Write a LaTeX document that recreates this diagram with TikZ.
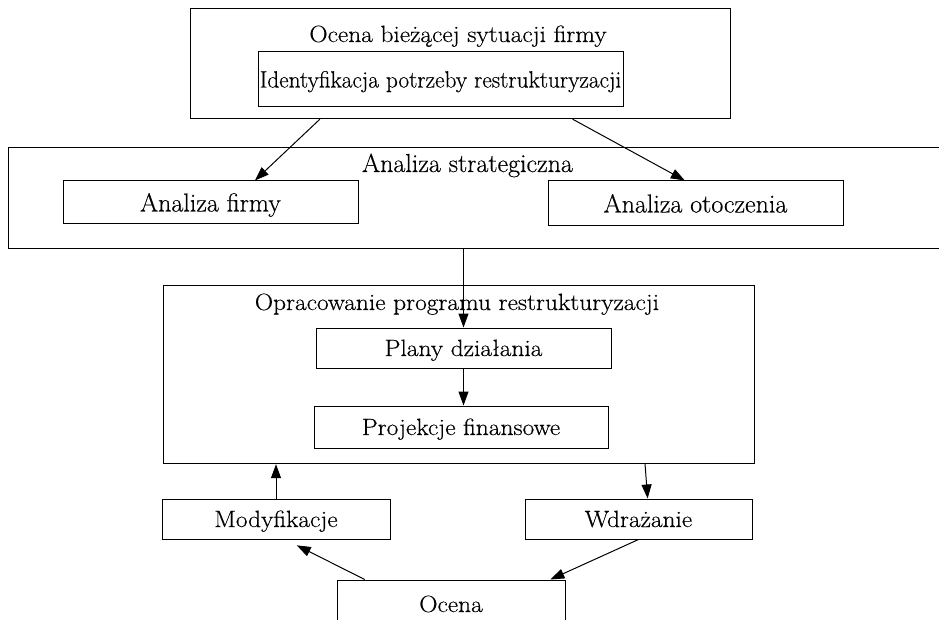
\documentclass[tikz,border=0pt]{standalone}
\usepackage{fontspec}
\setmainfont{Latin Modern Roman}[FakeStretch=1.08, FakeBold=0.4]
\newfontfamily\tallserif{Latin Modern Roman}[FakeStretch=1.0, FakeBold=0.4]
\newfontfamily\narrowserif{Latin Modern Roman}[FakeStretch=0.99, FakeBold=0.4]
\usetikzlibrary{arrows.meta,calc}

\begin{document}
\begin{tikzpicture}[x=1pt,y=-1pt,
  box/.style={draw, line width=1pt, inner sep=0pt, text height=16pt, text depth=0pt,
              font=\fontsize{23.5}{28}\selectfont},
  tall/.style={font=\tallserif\fontsize{26}{31}\selectfont, text height=18pt},
  narrow/.style={font=\narrowserif\fontsize{23.5}{28}\selectfont},
  frame/.style={draw, line width=1.2pt, inner sep=0pt, anchor=north west},
  title/.style={anchor=base, inner sep=0pt, font=\fontsize{23.5}{28}\selectfont},
  link/.style={line width=1pt, -{Triangle[length=14pt,width=10pt]}}]

\useasboundingbox (0,0) rectangle (939,620);

% assessment of the current situation
\node[frame, minimum width=540pt, minimum height=110pt] (top) at (190,8) {};
\node[title] (topTitle) at (458,42) {Ocena bieżącej sytuacji firmy};
\node[box, narrow, minimum width=365pt, minimum height=55pt] (ident) at (440.5,79.5)
  {Identyfikacja potrzeby restrukturyzacji};

% strategic analysis (runs off the right edge)
\node[frame, minimum width=940pt, minimum height=101pt] (strat) at (8,147) {};
\node[title, tall] (stratTitle) at (467.5,172) {Analiza strategiczna};
\node[box, tall, minimum width=295pt, minimum height=43pt] (firm) at (210.5,202.5) {Analiza firmy};
\node[box, tall, minimum width=295pt, minimum height=45pt] (env) at (695.5,203.5) {Analiza otoczenia};

% restructuring programme
\node[frame, minimum width=591pt, minimum height=178pt] (oprac) at (163,285) {};
\node[title] (opracTitle) at (457,310) {Opracowanie programu restrukturyzacji};
\node[box, minimum width=295pt, minimum height=40pt] (plany) at (463.5,348) {Plany działania};
\node[box, minimum width=294pt, minimum height=42pt] (proj) at (461,427) {Projekcje finansowe};

% implementation loop
\node[box, minimum width=228pt, minimum height=40pt] (mod) at (276,519) {Modyfikacje};
\node[box, minimum width=227pt, minimum height=40pt] (wdr) at (638.5,519) {Wdrażanie};
\node[box, minimum width=228pt, minimum height=48pt] (ocena) at (451,604) {Ocena};

% connectors
\draw[link] ($(top.south west)!0.24!(top.south east)$) -- ($(firm.north west)!0.65!(firm.north east)$);
\draw[link] ($(top.south west)!0.707!(top.south east)$) -- ($(env.north west)!0.464!(env.north east)$);
\draw[link] (strat.south -| plany.north) -- (plany.north);
\draw[link] (plany.south) -- (plany.south |- proj.north);
\draw[link] (mod.north) -- (mod.north |- oprac.south);
\draw[link] ($(oprac.south west)!0.814!(oprac.south east)$) -- ($(wdr.north west)!0.54!(wdr.north east)$);
\draw[link] (wdr.south) -- ($(ocena.north west)!0.934!(ocena.north east)$);
\draw[link, shorten >=13pt] ($(ocena.north west)!0.123!(ocena.north east)$) -- ($(mod.south west)!0.54!(mod.south east)$);

\end{tikzpicture}
\end{document}
